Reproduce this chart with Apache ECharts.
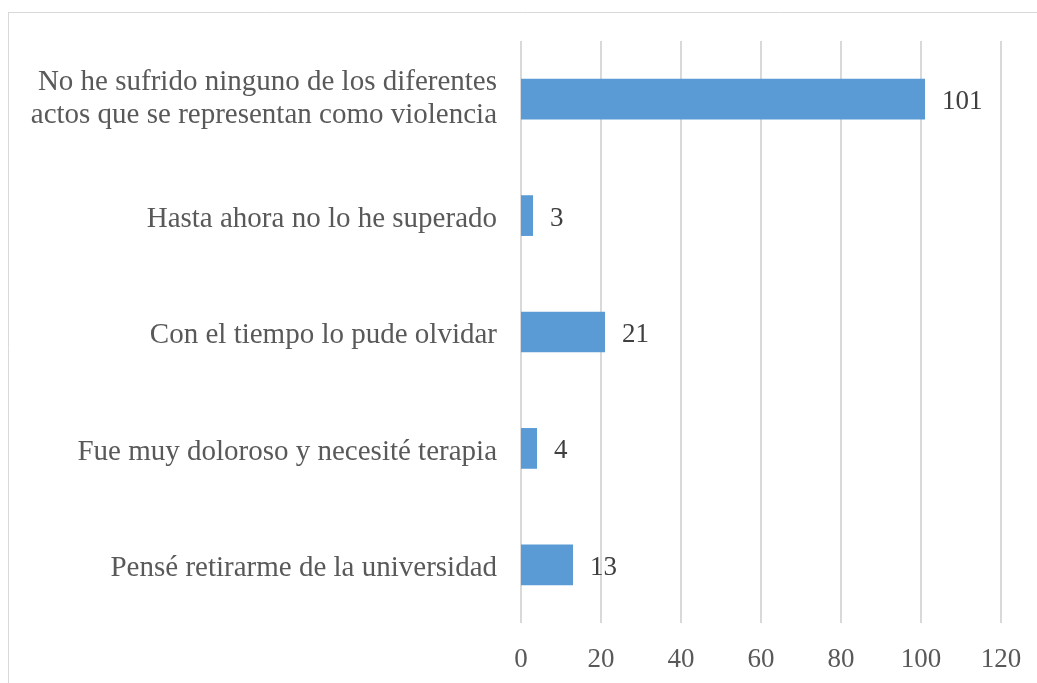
<!DOCTYPE html>
<html><head><meta charset="utf-8">
<script src="https://cdn.jsdelivr.net/npm/echarts@6/dist/echarts.min.js"></script>
<style>html,body{margin:0;padding:0;background:#fff}#c{width:1037px;height:683px}</style>
</head><body><div id="c"></div>
<script>
const categories = [
  "No he sufrido ninguno de los diferentes\nactos que se representan como violencia",
  "Hasta ahora no lo he superado",
  "Con el tiempo lo pude olvidar",
  "Fue muy doloroso y necesité terapia",
  "Pensé retirarme de la universidad"
];
const values = [101, 3, 21, 4, 13];
const xTicks = [0, 20, 40, 60, 80, 100, 120];

const chart = echarts.init(document.getElementById('c'), null, {renderer: 'canvas'});
const font = '"Liberation Serif","Times New Roman",serif';
chart.setOption({
  animation: false,
  backgroundColor: '#fff',
  grid: {left: 521, right: 36, top: 41, bottom: 60, containLabel: false},
  graphic: [
    {type: 'line', shape: {x1: 8, y1: 12.5, x2: 1037, y2: 12.5}, style: {stroke: '#d9d9d9', lineWidth: 1}},
    {type: 'line', shape: {x1: 8.5, y1: 12, x2: 8.5, y2: 683}, style: {stroke: '#d9d9d9', lineWidth: 1}}
  ],
  xAxis: {
    type: 'value', min: xTicks[0], max: xTicks[xTicks.length - 1], interval: 20,
    axisLine: {show: false}, axisTick: {show: false},
    splitLine: {lineStyle: {color: '#d9d9d9', width: 2}},
    axisLabel: {color: '#595959', fontFamily: font, fontSize: 27, margin: 23}
  },
  yAxis: {
    type: 'category', inverse: true, data: categories,
    axisLine: {show: false}, axisTick: {show: false},
    axisLabel: {
      color: '#595959', fontFamily: font, fontSize: 29, margin: 24, lineHeight: 33, align: 'right',
      formatter: v => v.indexOf('\n') >= 0 ? v : '{s|' + v + '}',
      rich: {s: {color: '#595959', fontFamily: font, fontSize: 29, padding: [7, 0, 0, 0]}}
    }
  },
  series: [{
    type: 'bar', data: values, barCategoryGap: '65%',
    itemStyle: {color: '#5b9bd5'},
    label: {show: true, position: 'right', distance: 17, offset: [0, 3], color: '#404040', fontFamily: font, fontSize: 27}
  }]
});
</script></body></html>
